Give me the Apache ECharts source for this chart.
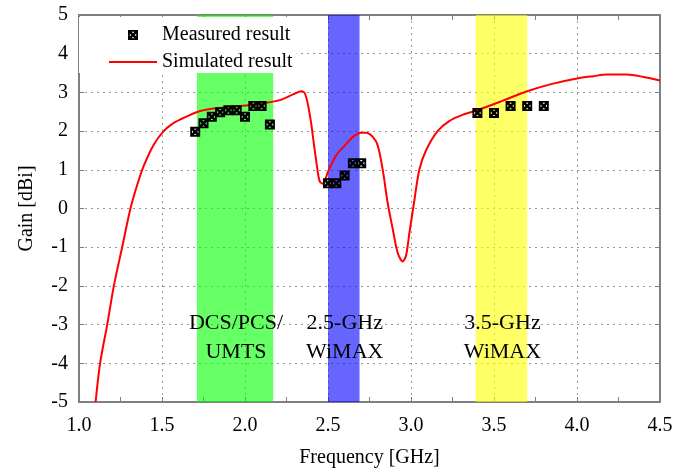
<!DOCTYPE html>
<html>
<head>
<meta charset="utf-8">
<script src="https://cdn.jsdelivr.net/npm/echarts@6/dist/echarts.min.js"></script>
<style>
  html, body { margin: 0; padding: 0; background: #fff; }
  #chart { width: 688px; height: 473px; }
</style>
</head>
<body>
<div id="chart"></div>
<script>
// Simulated gain curve: [frequency GHz, gain dBi]
const simulatedFreq = [1.10, 1.127, 1.17, 1.21, 1.26, 1.31, 1.35, 1.39, 1.45, 1.51, 1.56, 1.61, 1.67, 1.73, 1.80, 1.91, 2.00, 2.11, 2.21, 2.29, 2.34, 2.36, 2.38, 2.40, 2.41, 2.43, 2.45, 2.47, 2.50, 2.55, 2.60, 2.65, 2.70, 2.73, 2.77, 2.80, 2.83, 2.86, 2.89, 2.92, 2.95, 2.97, 2.99, 3.02, 3.05, 3.09, 3.16, 3.23, 3.31, 3.40, 3.55, 3.70, 3.85, 4.00, 4.10, 4.18, 4.30, 4.40, 4.50];
const simulatedGain = [-5.0, -4.0, -3.0, -2.0, -1.0, 0.0, 0.6, 1.1, 1.65, 2.0, 2.18, 2.3, 2.42, 2.52, 2.58, 2.62, 2.66, 2.72, 2.8, 2.95, 3.03, 2.98, 2.67, 2.16, 1.83, 1.2, 0.7, 0.64, 0.95, 1.38, 1.62, 1.85, 1.96, 1.96, 1.85, 1.62, 0.99, 0.13, -0.53, -1.15, -1.37, -1.22, -0.64, 0.2, 1.0, 1.5, 2.0, 2.26, 2.42, 2.54, 2.78, 3.03, 3.22, 3.36, 3.42, 3.46, 3.46, 3.40, 3.31];

// Measured gain samples
const measuredFreq = [1.70, 1.75, 1.80, 1.85, 1.90, 1.95, 2.00, 2.05, 2.10, 2.15, 2.50, 2.55, 2.60, 2.65, 2.70, 3.40, 3.50, 3.60, 3.70, 3.80];
const measuredGain = [1.98, 2.2, 2.37, 2.49, 2.54, 2.54, 2.37, 2.65, 2.65, 2.17, 0.65, 0.65, 0.85, 1.17, 1.17, 2.47, 2.47, 2.65, 2.65, 2.65];

// Frequency bands
const bandNames = ['DCS/PCS/\nUMTS', '2.5-GHz\nWiMAX', '3.5-GHz\nWiMAX'];
const bandStart = [1.71, 2.50, 3.39];
const bandEnd = [2.17, 2.69, 3.70];
const bandColors = ['#00ff00', '#0000ff', '#ffff00'];

// Axis ticks
const xTicks = [1.0, 1.5, 2.0, 2.5, 3.0, 3.5, 4.0, 4.5];
const yTicks = [-5, -4, -3, -2, -1, 0, 1, 2, 3, 4, 5];

const FONT = 'Liberation Serif';
const AXIS_GREY = '#7f7f7f';

// Dark square marker with a small white cross-hatch
const markerShape = 'M0 0L10 0L10 10L0 10Z M3.6 1.8L5 3.2L6.4 1.8Z M8.2 3.6L6.8 5L8.2 6.4Z M6.4 8.2L5 6.8L3.6 8.2Z M1.8 6.4L3.2 5L1.8 3.6Z';
const markerPath = 'path://' + markerShape;
// Same marker, padded out to the legend icon box
const markerLegendPath = 'path://M-19 0 M29 10 ' + markerShape;
// Thin red stroke for the simulated legend entry
const lineLegendPath = 'path://M0 0 M0 10 M0 4L48 4L48 6L0 6Z';

const simulated = simulatedFreq.map((f, i) => [f, simulatedGain[i]]);
const measured = measuredFreq.map((f, i) => [f, measuredGain[i]]);

const bandAreas = bandNames.map((name, i) => [
  {
    name: name,
    xAxis: bandStart[i],
    itemStyle: { color: bandColors[i], opacity: 0.6 },
  },
  { xAxis: bandEnd[i] }
]);

const chart = echarts.init(document.getElementById('chart'));

const gridLine = { show: true, lineStyle: { color: '#9a9a9a', width: 1, type: [2, 4] } };

chart.setOption({
  animation: false,
  backgroundColor: '#fff',
  grid: { left: 79, right: 28, top: 15, bottom: 65, containLabel: false },
  legend: {
    orient: 'vertical',
    left: 79,
    top: 17,
    padding: [8, 4, 1, 30],
    itemGap: 7,
    itemWidth: 48,
    itemHeight: 10,
    backgroundColor: '#fff',
    textStyle: { fontFamily: FONT, fontSize: 20, color: '#000' },
    z: 10,
    data: [
      { name: 'Measured result', icon: markerLegendPath },
      { name: 'Simulated result', icon: lineLegendPath }
    ]
  },
  xAxis: [
    {
      type: 'value',
      min: 1.0,
      max: 4.5,
      interval: 0.5,
      name: 'Frequency [GHz]',
      nameLocation: 'middle',
      nameGap: 46,
      nameTextStyle: { fontFamily: FONT, fontSize: 20, color: '#000' },
      axisLine: { show: true, onZero: false, lineStyle: { color: AXIS_GREY, width: 2 } },
      axisTick: { show: true, inside: true, length: 5, lineStyle: { color: AXIS_GREY } },
      minorTick: { show: true, splitNumber: 2, length: 5, lineStyle: { color: AXIS_GREY } },
      axisLabel: {
        margin: 14,
        fontFamily: FONT, fontSize: 20, color: '#000',
        formatter: v => xTicks.indexOf(v) >= 0 ? v.toFixed(1) : ''
      },
      splitLine: gridLine
    },
    {
      type: 'value',
      position: 'top',
      min: 1.0,
      max: 4.5,
      interval: 0.5,
      axisLine: { show: true, onZero: false, lineStyle: { color: AXIS_GREY, width: 2 } },
      axisTick: { show: true, inside: true, length: 5, lineStyle: { color: AXIS_GREY } },
      minorTick: { show: true, splitNumber: 2, length: 5, lineStyle: { color: AXIS_GREY } },
      axisLabel: { show: false },
      splitLine: { show: false }
    }
  ],
  yAxis: [
    {
      type: 'value',
      min: -5,
      max: 5,
      interval: 1,
      name: 'Gain [dBi]',
      nameLocation: 'middle',
      nameGap: 42,
      nameTextStyle: { fontFamily: FONT, fontSize: 20, color: '#000' },
      axisLine: { show: true, onZero: false, lineStyle: { color: AXIS_GREY, width: 2 } },
      axisTick: { show: true, inside: true, length: 5, lineStyle: { color: AXIS_GREY } },
      axisLabel: {
        margin: 11,
        fontFamily: FONT, fontSize: 20, color: '#000',
        formatter: v => yTicks.indexOf(v) >= 0 ? String(v) : ''
      },
      splitLine: gridLine
    },
    {
      type: 'value',
      position: 'right',
      min: -5,
      max: 5,
      interval: 1,
      axisLine: { show: true, onZero: false, lineStyle: { color: AXIS_GREY, width: 2 } },
      axisTick: { show: true, inside: true, length: 5, lineStyle: { color: AXIS_GREY } },
      axisLabel: { show: false },
      splitLine: { show: false }
    }
  ],
  series: [
    {
      name: 'Simulated result',
      type: 'line',
      data: simulated,
      smooth: 0.3,
      symbol: 'none',
      lineStyle: { color: '#ff0000', width: 2 },
      itemStyle: { color: '#ff0000' },
      z: 3,
      markArea: {
        silent: true,
        z: 1,
        label: {
          show: true,
          position: 'inside',
          offset: [1, 129],
          fontFamily: FONT,
          fontSize: 22,
          lineHeight: 29,
          color: '#000',
          align: 'center'
        },
        data: bandAreas
      }
    },
    {
      name: 'Measured result',
      type: 'scatter',
      data: measured,
      symbol: markerPath,
      symbolSize: 10,
      itemStyle: { color: '#000', opacity: 1 },
      z: 5
    }
  ]
});
</script>
</body>
</html>
